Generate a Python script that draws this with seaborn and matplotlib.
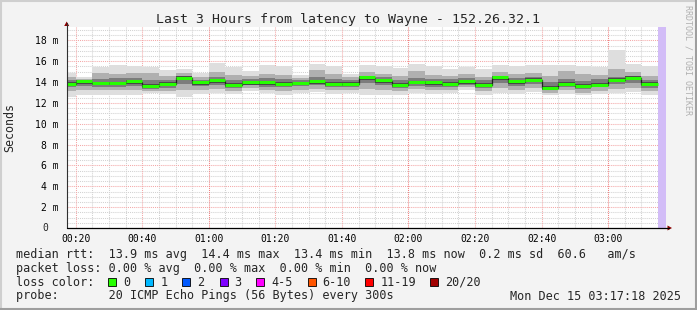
import numpy as np
import pandas as pd
import matplotlib
matplotlib.use("Agg")
import matplotlib.pyplot as plt
import matplotlib.transforms as mtrans
from matplotlib.lines import Line2D
from matplotlib.patches import Rectangle, Polygon
import seaborn as sns

# ---------------- data (ms) ----------------
bin_start = "2025-12-15 00:15"
n_bins = 36
median_rtt = [13.82, 14.04, 13.88, 13.90, 14.04, 13.63, 13.82, 14.40, 13.95, 14.14,
              13.72, 13.95, 13.95, 13.82, 13.90, 14.04, 13.82, 13.82, 14.43, 14.14,
              13.72, 14.00, 13.95, 13.82, 14.04, 13.72, 14.43, 14.04, 14.20, 13.45,
              13.82, 13.63, 13.74, 14.22, 14.42, 13.82]
ping_max = [14.84, 14.52, 15.48, 15.64, 15.55, 15.48, 15.16, 15.30, 14.90, 15.86,
            15.48, 15.07, 15.64, 15.55, 14.68, 15.71, 15.55, 14.78, 15.64, 15.55,
            15.32, 15.74, 15.55, 15.26, 15.48, 15.30, 15.64, 15.55, 15.64, 15.64,
            15.64, 15.55, 15.48, 17.08, 15.71, 15.55]
ping_p90 = [14.5, 14.3, 14.9, 14.8, 14.9, 14.9, 14.6, 14.9, 14.5, 15.0,
            14.7, 14.6, 14.8, 14.7, 14.4, 15.2, 14.8, 14.5, 15.0, 14.8,
            14.6, 15.1, 14.7, 14.6, 14.8, 14.5, 15.0, 14.8, 14.9, 14.6,
            15.1, 14.8, 14.7, 15.3, 15.0, 14.6]
ping_p75 = [14.2, 14.2, 14.3, 14.4, 14.4, 14.2, 14.2, 14.6, 14.2, 14.5,
            14.2, 14.3, 14.4, 14.3, 14.2, 14.5, 14.3, 14.2, 14.6, 14.5,
            14.2, 14.4, 14.3, 14.3, 14.4, 14.2, 14.6, 14.4, 14.5, 14.0,
            14.3, 14.1, 14.3, 14.5, 14.6, 14.2]
ping_p25 = [13.5, 13.6, 13.5, 13.5, 13.6, 13.3, 13.4, 13.8, 13.6, 13.7,
            13.4, 13.7, 13.5, 13.5, 13.6, 13.7, 13.5, 13.5, 13.9, 13.7,
            13.4, 13.6, 13.5, 13.5, 13.7, 13.4, 13.9, 13.6, 13.8, 13.2,
            13.5, 13.3, 13.5, 13.8, 13.9, 13.4]
ping_p10 = [13.1, 13.2, 13.2, 13.2, 13.2, 13.1, 13.1, 13.2, 13.2, 13.3,
            13.1, 13.4, 13.2, 13.1, 13.2, 13.3, 13.2, 13.2, 13.3, 13.2,
            13.1, 13.3, 13.2, 13.2, 13.5, 13.1, 13.4, 13.2, 13.4, 13.0,
            13.2, 13.0, 13.1, 13.3, 13.4, 13.1]
ping_min = [12.60, 12.76, 12.76, 12.76, 12.76, 12.98, 12.86, 12.60, 12.86, 12.92,
            12.82, 13.18, 12.98, 12.76, 12.92, 13.05, 12.86, 12.93, 12.76, 12.76,
            12.76, 12.98, 12.86, 12.98, 13.24, 12.76, 12.92, 12.86, 13.05, 12.76,
            12.86, 12.76, 12.86, 12.92, 13.05, 12.76]

x_tick_labels = ["00:20", "00:40", "01:00", "01:20", "01:40", "02:00", "02:20", "02:40", "03:00"]
y_tick_values = [2, 4, 6, 8, 10, 12, 14, 16, 18]
title = "Last 3 Hours from latency to Wayne - 152.26.32.1"
loss_labels = ["0", "1", "2", "3", "4-5", "6-10", "11-19", "20/20"]
loss_colors = ["#26ff00", "#00b8ff", "#0059ff", "#7e00ff", "#ff00ff", "#ff5500", "#ff0000", "#a10000"]
legend_rows = [
    "median rtt:  13.9 ms avg  14.4 ms max  13.4 ms min  13.8 ms now  0.2 ms sd  60.6   am/s",
    "packet loss: 0.00 % avg  0.00 % max  0.00 % min  0.00 % now",
    "loss color:",
    "probe:       20 ICMP Echo Pings (56 Bytes) every 300s",
]
stamp = "Mon Dec 15 03:17:18 2025"

# ---------------- derived ----------------
t0 = pd.Timestamp("2025-12-15 00:00")
starts = pd.date_range(bin_start, periods=n_bins, freq="5min")
xs = np.array([(s - t0).total_seconds() / 60 for s in starts])
x_end = xs[-1] + 5
view_lo = (pd.Timestamp("2025-12-15 00:17:18") - t0).total_seconds() / 60
view_hi = (pd.Timestamp("2025-12-15 03:17:18") - t0).total_seconds() / 60
df = pd.DataFrame({"t": list(xs) + [x_end], "median": median_rtt + [median_rtt[-1]]})

W, H = 697, 310
MONO = "DejaVu Sans Mono"
sns.set_theme(style="white")
plt.rcParams["font.family"] = [MONO, "DejaVu Sans"]

fig = plt.figure(figsize=(W / 100, H / 100), dpi=100)
fig.patch.set_facecolor("#f3f3f3")

L, R, T, B = 66.7, 665.7, 27, 228
ax = fig.add_axes([L / W, (H - B) / H, (R - L) / W, (B - T) / H])
ax.set_facecolor("white")
ax.set_xlim(view_lo, view_hi)
ax.set_ylim(0, (B - T) / 10.42)

# grid
minor_col = "#d2d2d2"
major_col = "#f4a8a8"
dot = (0, (1, 1))
for v in np.arange(0.5, 19.3, 0.5):
    if abs(v / 2 - round(v / 2)) > 1e-6:
        ax.axhline(v, color=minor_col, lw=0.75, ls=dot, zorder=0)
for v in y_tick_values:
    ax.axhline(v, color=major_col, lw=0.75, ls=dot, zorder=0.5)
for m in np.arange(20, 200, 5):
    if m % 20 != 0:
        ax.axvline(m, color=minor_col, lw=0.75, ls=dot, zorder=0)
for m in range(20, 200, 20):
    col = "#f08080" if m % 60 == 0 else major_col
    ax.axvline(m, color=col, lw=0.75, ls=dot, zorder=0.5)

# smoke
layers = [(ping_min, ping_max, "#dedede"),
          (ping_p10, ping_p90, "#b0b0b0"),
          (ping_p25, ping_p75, "#7c7c7c")]
for lo, hi, col in layers:
    lo = np.array(lo); hi = np.array(hi)
    ax.bar(xs, hi - lo, bottom=lo, width=5, align="edge", color=col, linewidth=0, zorder=1)
med = np.array(median_rtt)
ax.bar(xs, 0.35, bottom=med - 0.2, width=5, align="edge", color="#4a4a4a", linewidth=0, zorder=1.5)

# median: dark step line plus green loss colour
sns.lineplot(data=df, x="t", y="median", drawstyle="steps-post", color="#202020",
             lw=0.9, ax=ax, zorder=2, legend=False)
ax.hlines(med + 0.02, xs, xs + 5, color=loss_colors[0], lw=2.2, zorder=3)

# unknown (purple) region
ax.axvspan(x_end, view_hi, color="#d2bcf7", lw=0, zorder=2.5)

# axes decoration
for s in ax.spines.values():
    s.set_visible(False)
ax.set_xlabel("")
ax.set_ylabel("")
ax.set_xticks(range(20, 181, 20))
ax.set_xticklabels(x_tick_labels)
ax.set_xticks(np.arange(20, 200, 5), minor=True)
ax.set_yticks(y_tick_values)
ax.set_yticklabels([f"{v} m" for v in y_tick_values])
ax.set_yticks(np.arange(0.5, 19.3, 0.5), minor=True)
ax.tick_params(axis="both", which="both", labelsize=7, colors="#000000")
ax.tick_params(axis="y", which="major", direction="out", length=2.5, width=0.8, pad=3.5, color="#505050")
ax.tick_params(axis="y", which="minor", direction="out", length=1.5, width=0.6, color="#808080")
ax.tick_params(axis="x", which="major", direction="out", length=2.5, width=0.8, pad=1.5, color="#505050")
ax.tick_params(axis="x", which="minor", direction="out", length=1.5, width=0.6, color="#808080")
for lab in ax.get_xticklabels() + ax.get_yticklabels():
    lab.set_fontfamily(MONO)
ax.text(-0.035, 0, "0", transform=mtrans.blended_transform_factory(ax.transAxes, ax.transData),
        ha="center", va="center", fontsize=7, family=MONO)

# axis lines with arrows (figure pixel coords)
def fx(x): return x / W
def fy(y): return 1 - y / H
fig.add_artist(Line2D([fx(L), fx(L)], [fy(B), fy(23)], color="#303030", lw=0.8))
fig.add_artist(Line2D([fx(L), fx(669)], [fy(B), fy(B)], color="black", lw=0.9))
fig.add_artist(Polygon([[fx(L - 2.5), fy(26)], [fx(L + 2.5), fy(26)], [fx(L), fy(21.5)]],
                       closed=True, color="#8b0000", lw=0))
fig.add_artist(Polygon([[fx(667.5), fy(B - 2.5)], [fx(667.5), fy(B + 2.5)], [fx(672), fy(B)]],
                       closed=True, color="#8b0000", lw=0))

# title and labels
fig.text(fx(348.5), fy(19), title, ha="center", va="center", fontsize=9.55, family=MONO)
fig.text(fx(10), fy(127), "Seconds", rotation=90, ha="center", va="center", fontsize=8.4, family=MONO)
fig.text(fx(688), fy(5), "RRDTOOL / TOBI OETIKER", rotation=270, ha="center", va="top",
         fontsize=6, family=MONO, color="#b0b0b0")

# legend rows
row_y = [254.3, 268.3, 282.3, 296.0]
for txt, y in zip(legend_rows, row_y):
    fig.text(fx(16.4), fy(y), txt, ha="left", va="center", fontsize=8.43, family=MONO)
fig.text(fx(681.5), fy(row_y[3]), stamp, ha="right", va="center", fontsize=8.43, family=MONO)
box_x = [108.0, 145.3, 182.2, 219.6, 256.4, 307.6, 365.3, 430.2]
for bx, lab, col in zip(box_x, loss_labels, loss_colors):
    fig.add_artist(Rectangle((fx(bx), fy(row_y[2] + 4)), 8 / W, 8 / H, facecolor=col,
                             edgecolor="black", lw=0.6))
    fig.text(fx(bx + 15), fy(row_y[2]), lab, ha="left", va="center", fontsize=8.43, family=MONO)

# frame
fig.add_artist(Line2D([0, 1], [fy(1), fy(1)], color="#cfcfcf", lw=1.5))
fig.add_artist(Line2D([fx(1), fx(1)], [0, 1], color="#cfcfcf", lw=1.5))
fig.add_artist(Line2D([0, 1], [fy(309), fy(309)], color="#9e9e9e", lw=1.5))
fig.add_artist(Line2D([fx(696), fx(696)], [0, 1], color="#9e9e9e", lw=1.5))

fig.savefig("out.png", dpi=100, facecolor=fig.get_facecolor())
